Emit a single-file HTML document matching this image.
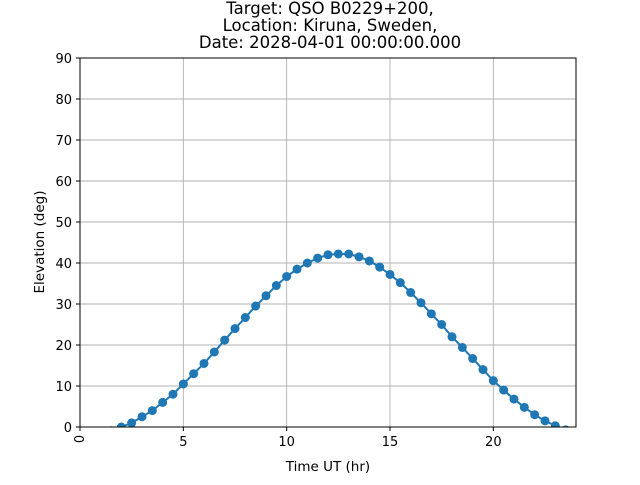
<!DOCTYPE html>
<html><head><meta charset="utf-8"><style>
body{margin:0;background:#fff}
svg text{font-family:"DejaVu Sans","Liberation Sans",sans-serif;fill:#000}
</style></head><body>
<svg id="chart" width="640" height="480" xmlns="http://www.w3.org/2000/svg">
<g text-anchor="middle">
<text x="330" y="14" font-size="16.5">Target: QSO B0229+200,</text>
<text x="330" y="31" font-size="16.5">Location: Kiruna, Sweden,</text>
<text x="330" y="48" font-size="16.5">Date: 2028-04-01 00:00:00.000</text>
</g>
<defs><clipPath id="clip"><rect x="80" y="58" width="496" height="369"/></clipPath></defs>
<g id="grid"></g>
<g id="series" clip-path="url(#clip)"></g>
<rect x="80" y="58" width="496" height="369" fill="none" stroke="#000" stroke-width="1"/>
<g id="ticks"></g>
<text x="328" y="471" font-size="13.5" text-anchor="middle">Time UT (hr)</text>
<text transform="translate(44,242) rotate(-90)" font-size="13.5" text-anchor="middle">Elevation (deg)</text>
</svg>
<script>
const times=[1.0,1.5,2.0,2.5,3.0,3.5,4.0,4.5,5.0,5.5,6.0,6.5,7.0,7.5,8.0,8.5,9.0,9.5,10.0,10.5,11.0,11.5,12.0,12.5,13.0,13.5,14.0,14.5,15.0,15.5,16.0,16.5,17.0,17.5,18.0,18.5,19.0,19.5,20.0,20.5,21.0,21.5,22.0,22.5,23.0,23.5,24.0];
const elev=[-2.0,-0.9,0.0,1.0,2.5,4.0,6.0,8.0,10.5,13.0,15.5,18.3,21.2,24.0,26.7,29.5,32.0,34.5,36.7,38.5,40.0,41.2,42.0,42.2,42.2,41.5,40.5,39.0,37.2,35.2,32.8,30.3,27.6,25.0,22.0,19.4,16.7,14.0,11.3,9.0,6.8,4.8,3.0,1.5,0.3,-0.7,-1.8];
const xTicks=[0,5,10,15,20];
const yTicks=[0,10,20,30,40,50,60,70,80,90];
const NS="http://www.w3.org/2000/svg";
const X=v=>80+v*(496/24), Y=v=>427-v*(369/90);
function mk(t,a,p){const e=document.createElementNS(NS,t);for(const k in a)e.setAttribute(k,a[k]);p.appendChild(e);return e;}
const grid=document.getElementById('grid'),ticks=document.getElementById('ticks'),ser=document.getElementById('series');
xTicks.forEach(v=>{
 const l=mk('line',{x1:X(v),x2:X(v),y1:58,y2:427,stroke:'#b0b0b0','stroke-width':0.9},grid);
 
 
 mk('line',{x1:X(v),x2:X(v),y1:427,y2:431,stroke:'#000'},ticks);
 const t=mk('text',{'font-size':13,'text-anchor':'middle'},ticks);
 if(v===0){t.setAttribute('transform',`translate(${X(v)+4},439) rotate(-90)`);}
 else{t.setAttribute('x',X(v));t.setAttribute('y',446);}
 t.textContent=v;
 
 
});
yTicks.forEach(v=>{
 const l=mk('line',{x1:80,x2:576,y1:Y(v),y2:Y(v),stroke:'#b0b0b0','stroke-width':0.9},grid);
 
 
 mk('line',{x1:76,x2:80,y1:Y(v),y2:Y(v),stroke:'#000'},ticks);
 const t=mk('text',{x:72,y:Y(v)+5,'font-size':13,'text-anchor':'end'},ticks);
 t.textContent=v;
 
 
});
const line=mk('polyline',{points:times.map((t,i)=>X(t)+','+Y(elev[i])).join(' '),fill:'none',stroke:'#1f77b4','stroke-width':2},ser);


times.forEach((t,i)=>{
 const c=mk('circle',{cx:X(t),cy:Y(elev[i]),r:4.5,fill:'#1f77b4'},ser);
 
 
});
</script>
</body></html>
